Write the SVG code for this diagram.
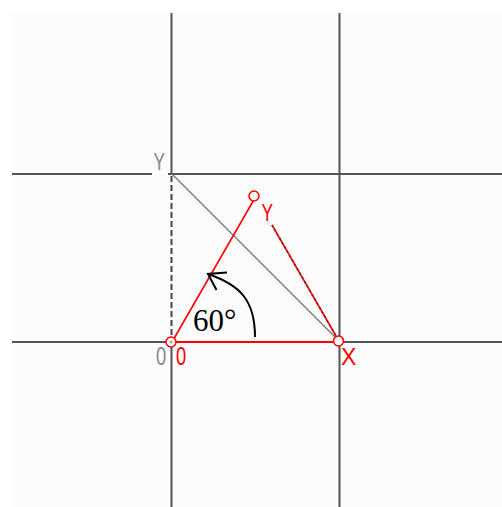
<svg xmlns="http://www.w3.org/2000/svg" width="502" height="507" viewBox="0 0 502 507">
<style>
.grid{stroke:#555;stroke-width:2;fill:none}
.red{stroke:#f00;stroke-width:1.6;fill:none}
.pt{stroke:#f00;stroke-width:1.5;fill:#fcfcfc}
.lbl{font-family:"Liberation Sans",Arial,sans-serif;font-size:23px}
.g{fill:#888}
.r{fill:#f00}
</style>
<rect width="502" height="507" fill="#fff"/>
<rect x="12" y="13" width="490" height="494" fill="#fcfcfc"/>
<g id="grid">
<line class="grid" x1="171.5" y1="13" x2="171.5" y2="174"/>
<line class="grid" x1="171.5" y1="342" x2="171.5" y2="507"/>
<line class="grid" x1="339.5" y1="13" x2="339.5" y2="507"/>
<line class="grid" x1="12" y1="174" x2="152" y2="174"/>
<line class="grid" x1="168" y1="174" x2="502" y2="174"/>
<line class="grid" x1="12" y1="342" x2="502" y2="342"/>
</g>
<g id="connectors">
<line x1="171.5" y1="176" x2="171.5" y2="337" stroke="#444" stroke-width="2" stroke-dasharray="6,3"/>
<line x1="172" y1="174" x2="336" y2="338" stroke="#777" stroke-width="1.3"/>
<line class="red" x1="172" y1="342" x2="255.5" y2="197"/>
<line x1="172" y1="342" x2="336" y2="342" stroke="#f00" stroke-width="2.2"/>
<line class="red" x1="272" y1="225" x2="336" y2="336"/>
<line x1="272" y1="225" x2="336" y2="336" stroke="#7a2020" stroke-width="1.6" stroke-dasharray="2,3"/>
<path d="M255,337 C255,300 240,285 208,274" fill="none" stroke="#000" stroke-width="2"/>
<path d="M227,272.5 L208,274 L216.5,290" fill="none" stroke="#000" stroke-width="2"/>
</g>
<g id="node-Y">
<text class="lbl g" transform="translate(153.5,170) scale(0.75,1)">Y</text>
</g>
<g id="node-O">
<circle class="pt" cx="171" cy="342" r="5"/>
<circle cx="171" cy="342" r="1.5" fill="#aaa"/>
<text class="lbl g" transform="translate(156,365) scale(0.8,1.15)" font-size="23">0</text>
<text class="lbl r" transform="translate(176,365) scale(0.8,1.15)">0</text>
</g>
<g id="node-X">
<circle class="pt" cx="338.5" cy="341" r="5"/>
<text class="lbl r" x="341" y="365">X</text>
</g>
<g id="node-apex">
<circle class="pt" cx="254" cy="196" r="5"/>
<text class="lbl r" transform="translate(261.5,221) scale(0.75,1.05)">Y</text>
</g>
<g id="angle">
<text x="193" y="331" font-family="'Liberation Serif','Times New Roman',serif" font-size="31" fill="#000">60°</text>
</g>
</svg>
